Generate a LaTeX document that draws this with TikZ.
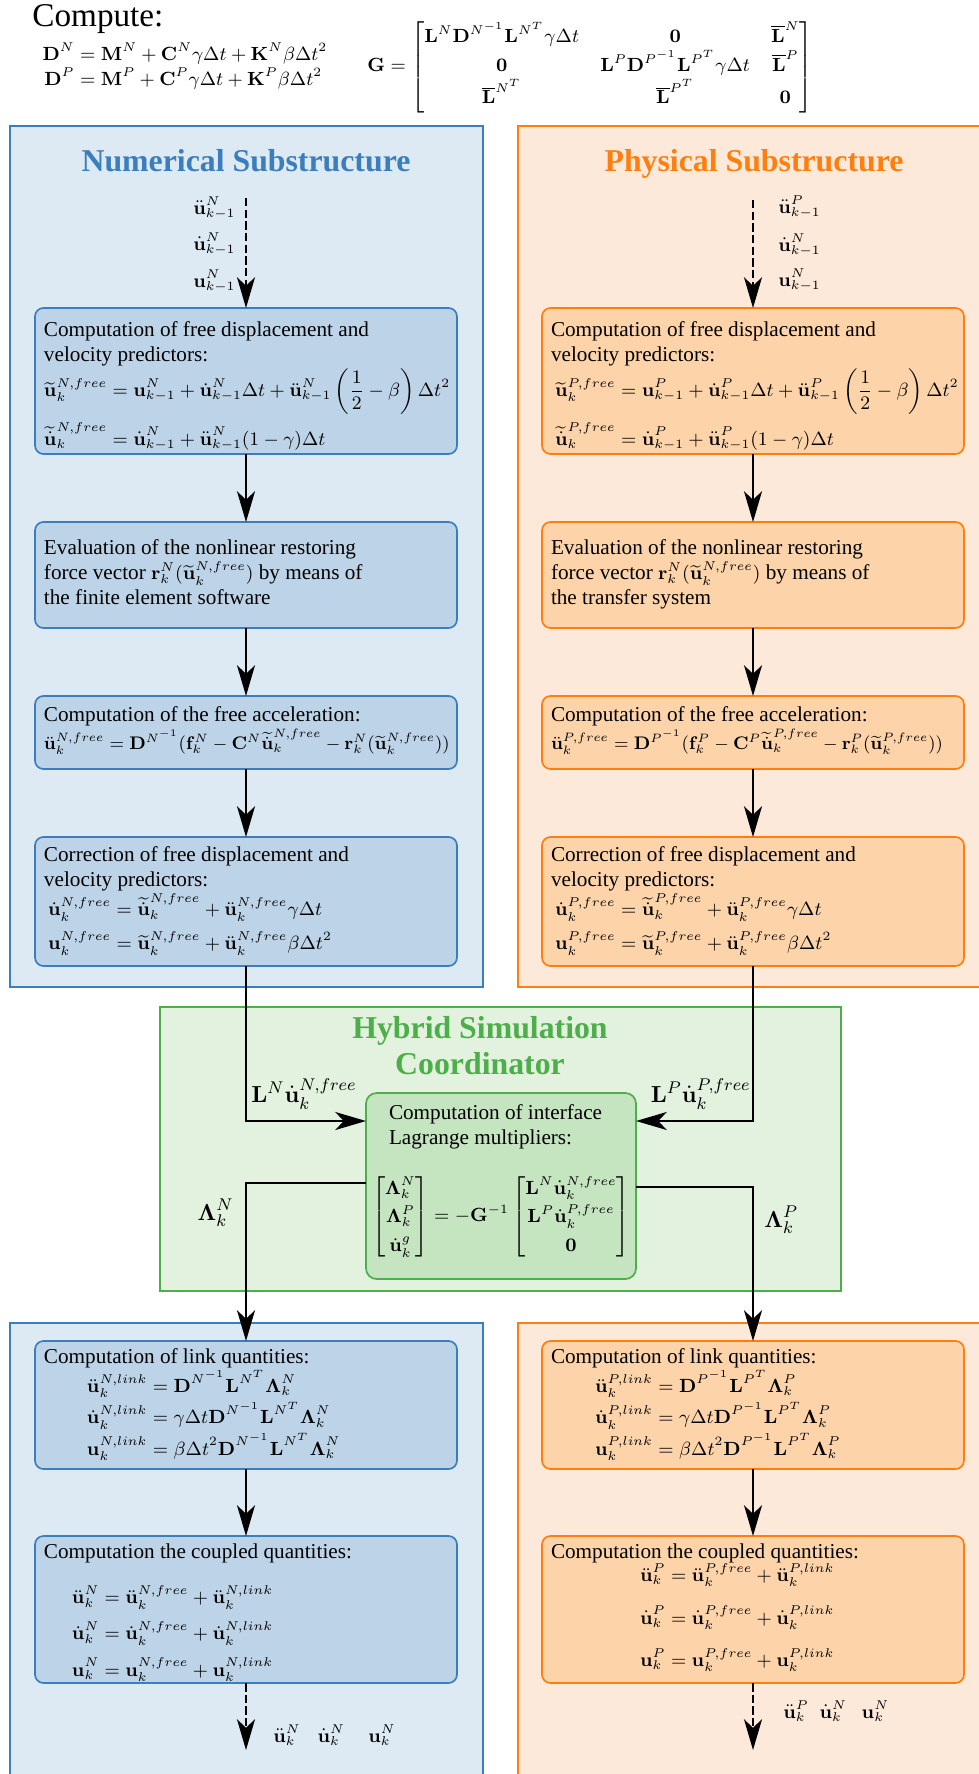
\documentclass[tikz,border=0pt]{standalone}
\usepackage{amsmath,amssymb}
\usepackage[no-math]{fontspec}
\setmainfont{Liberation Serif}[Scale=1.111]
\usetikzlibrary{arrows.meta}
\newlength\px \setlength\px{0.4717pt}
\definecolor{nborder}{RGB}{58,126,190}
\definecolor{nouter}{RGB}{222,234,243}
\definecolor{ninner}{RGB}{189,212,232}
\definecolor{pborder}{RGB}{255,127,14}
\definecolor{pouter}{RGB}{253,233,217}
\definecolor{pinner}{RGB}{253,212,170}
\definecolor{gborder}{RGB}{77,175,74}
\definecolor{gouter}{RGB}{227,241,223}
\definecolor{ginner}{RGB}{197,228,192}
\newcommand\uB{\mathbf{u}}
\newcommand\uD{\dot{\mathbf{u}}}
\newcommand\uDD{\ddot{\mathbf{u}}}
\newcommand\uT{\widetilde{\mathbf{u}}}
\newcommand\uTD{\widetilde{\dot{\mathbf{u}}}}
\newcommand\bLam{\boldsymbol{\Lambda}}
\newcommand\Dinv[1]{\mathbf{D}^{#1^{-1}}}
\newcommand\LT[1]{\mathbf{L}^{#1^{T}}}
\newcommand\bxc[3]{\parbox[c][#2\px][t]{#1\px}{\raggedright #3}}
\tikzset{
  basefont/.style={font=\fontsize{9}{11.8}\selectfont},
  arr/.style={line width=0.8pt,-{Stealth[length=14.5pt,width=8.5pt,inset=4pt]}},
  darr/.style={arr,dash pattern=on 4pt off 1.5pt},
  stepbox/.style={line width=0.8pt,rounded corners=4pt,inner xsep=9\px,inner ysep=0pt,outer sep=0pt,anchor=north},
  nstep/.style={stepbox,draw=nborder,fill=ninner},
  pstep/.style={stepbox,draw=pborder,fill=pinner},
  gstep/.style={stepbox,draw=gborder,fill=ginner,inner xsep=12\px,rounded corners=5pt},
  ttl/.style={inner sep=0pt,font=\fontsize{13.5}{17.1}\selectfont\bfseries},
  lbl/.style={inner sep=0pt},
  biglbl/.style={inner sep=0pt,font=\fontsize{10.95}{13.6}\selectfont},
}
\begin{document}
\begin{tikzpicture}[x=0.4717pt,y=-0.4717pt,every node/.append style={basefont}]
\useasboundingbox (0,0) rectangle (979,1774);
% containers
\draw[draw=nborder,fill=nouter,line width=0.7pt] (10,126) rectangle (483,987);
\draw[draw=pborder,fill=pouter,line width=0.7pt] (518,126) rectangle (995,987);
\draw[draw=nborder,fill=nouter,line width=0.7pt] (10,1323) rectangle (483,1795);
\draw[draw=pborder,fill=pouter,line width=0.7pt] (518,1323) rectangle (995,1795);
\draw[draw=gborder,fill=gouter,line width=0.9pt] (160,1007) rectangle (841,1291);
% header
\node[lbl,anchor=base west,font=\fontsize{14.1}{17}\selectfont] (cmp) at (32,27) {Compute:};
\node[lbl] (deq) at (185,68) {\jot=0pt$\begin{aligned}\mathbf{D}^N&=\mathbf{M}^N+\mathbf{C}^N\gamma\Delta t+\mathbf{K}^N\beta\Delta t^2\\[-1.2pt]
\mathbf{D}^P&=\mathbf{M}^P+\mathbf{C}^P\gamma\Delta t+\mathbf{K}^P\beta\Delta t^2\end{aligned}$};
\node[lbl] (geq) at (590,67) {\renewcommand\arraystretch{1.08}$\mathbf{G}=\begin{bmatrix}\mathbf{L}^N\Dinv{N}\LT{N}\gamma\Delta t & \mathbf{0} & \overline{\mathbf{L}}^N\\
\mathbf{0} & \mathbf{L}^P\Dinv{P}\LT{P}\gamma\Delta t & \overline{\mathbf{L}}^P\\
\overline{\mathbf{L}}^{N^T} & \overline{\mathbf{L}}^{P^T} & \mathbf{0}\end{bmatrix}$};
% titles
\node[ttl,text=nborder,anchor=base] (tn) at (246,172) {Numerical Substructure};
\node[ttl,text=pborder,anchor=base] (tp) at (754,172) {Physical Substructure};
\node[ttl,text=gborder,align=center,anchor=north] (tg) at (480,1016) {Hybrid Simulation\\Coordinator};
% numerical boxes
\node[nstep] (nb1) at (246,308) {\bxc{404}{146}{\vspace*{14\px}Computation of free displacement and\\
velocity predictors:\\
$\begin{aligned}[t]\uT_k^{N,free}&=\uB_{k-1}^N+\uD_{k-1}^N\Delta t+\uDD_{k-1}^N\left(\dfrac{1}{2}-\beta\right)\Delta t^2\\
\uTD_k^{N,free}&=\uD_{k-1}^N+\uDD_{k-1}^N(1-\gamma)\Delta t\end{aligned}$}};
\node[nstep] (nb2) at (246,522) {\bxc{404}{106}{\vspace*{18\px}Evaluation of the nonlinear restoring\\
force vector $\mathbf{r}_k^N(\uT_k^{N,free})$ by means of\\
the finite element software}};
\node[nstep] (nb3) at (246,696) {\bxc{404}{73}{\vspace*{11\px}Computation of the free acceleration:\\
\scalebox{0.955}{$\uDD_k^{N,free}=\Dinv{N}(\mathbf{f}_k^N-\mathbf{C}^N\uTD_k^{N,free}-\mathbf{r}_k^N(\uT_k^{N,free}))$}}};
\node[nstep] (nb4) at (246,837) {\bxc{404}{129}{\vspace*{10\px}Correction of free displacement and\\
velocity predictors:\\
\hspace*{4\px}$\begin{aligned}[t]\uD_k^{N,free}&=\uTD_k^{N,free}+\uDD_k^{N,free}\gamma\Delta t\\
\uB_k^{N,free}&=\uT_k^{N,free}+\uDD_k^{N,free}\beta\Delta t^2\end{aligned}$}};
\node[nstep] (nb5) at (246,1341) {\bxc{404}{128}{\vspace*{8\px}Computation of link quantities:\\
\hspace*{43\px}$\begin{aligned}[t]\uDD_k^{N,link}&=\Dinv{N}\LT{N}\bLam_k^N\\[-3pt]
\uD_k^{N,link}&=\gamma\Delta t\Dinv{N}\LT{N}\bLam_k^N\\[-3pt]
\uB_k^{N,link}&=\beta\Delta t^2\Dinv{N}\LT{N}\bLam_k^N\end{aligned}$}};
\node[nstep] (nb6) at (246,1536) {\bxc{404}{147}{\vspace*{8\px}Computation the coupled quantities:\\[9.5pt]
\hspace*{28\px}$\begin{aligned}[t]\uDD_k^N&=\uDD_k^{N,free}+\uDD_k^{N,link}\\[1pt]
\uD_k^N&=\uD_k^{N,free}+\uD_k^{N,link}\\[1pt]
\uB_k^N&=\uB_k^{N,free}+\uB_k^{N,link}\end{aligned}$}};
% physical boxes
\node[pstep] (pb1) at (753,308) {\bxc{404}{146}{\vspace*{14\px}Computation of free displacement and\\
velocity predictors:\\
\hspace*{4\px}$\begin{aligned}[t]\uT_k^{P,free}&=\uB_{k-1}^P+\uD_{k-1}^P\Delta t+\uDD_{k-1}^P\left(\dfrac{1}{2}-\beta\right)\Delta t^2\\
\uTD_k^{P,free}&=\uD_{k-1}^P+\uDD_{k-1}^P(1-\gamma)\Delta t\end{aligned}$}};
\node[pstep] (pb2) at (753,522) {\bxc{404}{106}{\vspace*{18\px}Evaluation of the nonlinear restoring\\
force vector $\mathbf{r}_k^N(\uT_k^{N,free})$ by means of\\
the transfer system}};
\node[pstep] (pb3) at (753,696) {\bxc{404}{73}{\vspace*{11\px}Computation of the free acceleration:\\
\scalebox{0.955}{$\uDD_k^{P,free}=\Dinv{P}(\mathbf{f}_k^P-\mathbf{C}^P\uTD_k^{P,free}-\mathbf{r}_k^P(\uT_k^{P,free}))$}}};
\node[pstep] (pb4) at (753,837) {\bxc{404}{129}{\vspace*{10\px}Correction of free displacement and\\
velocity predictors:\\
\hspace*{4\px}$\begin{aligned}[t]\uD_k^{P,free}&=\uTD_k^{P,free}+\uDD_k^{P,free}\gamma\Delta t\\
\uB_k^{P,free}&=\uT_k^{P,free}+\uDD_k^{P,free}\beta\Delta t^2\end{aligned}$}};
\node[pstep] (pb5) at (753,1341) {\bxc{404}{128}{\vspace*{8\px}Computation of link quantities:\\
\hspace*{44\px}$\begin{aligned}[t]\uDD_k^{P,link}&=\Dinv{P}\LT{P}\bLam_k^P\\[-3pt]
\uD_k^{P,link}&=\gamma\Delta t\Dinv{P}\LT{P}\bLam_k^P\\[-3pt]
\uB_k^{P,link}&=\beta\Delta t^2\Dinv{P}\LT{P}\bLam_k^P\end{aligned}$}};
\node[pstep] (pb6) at (753,1536) {\bxc{404}{147}{\vspace*{8\px}Computation the coupled quantities:\\[-1pt]
\hspace*{89\px}$\begin{aligned}[t]\uDD_k^P&=\uDD_k^{P,free}+\uDD_k^{P,link}\\[4pt]
\uD_k^P&=\uD_k^{P,free}+\uD_k^{P,link}\\[4pt]
\uB_k^P&=\uB_k^{P,free}+\uB_k^{P,link}\end{aligned}$}};
% coordinator box
\node[gstep] (hc) at (501,1093) {\bxc{246}{186}{\vspace*{12\px}\hspace*{11\px}Computation of interface\\
\hspace*{11\px}Lagrange multipliers:\par\vspace{10.5pt}
\renewcommand\arraystretch{1.15}\makebox[\linewidth]{$\begin{bmatrix}\bLam_k^N\\ \bLam_k^P\\ \uD_k^g\end{bmatrix}=-\mathbf{G}^{-1}\begin{bmatrix}\mathbf{L}^N\uD_k^{N,free}\\ \mathbf{L}^P\uD_k^{P,free}\\ \mathbf{0}\end{bmatrix}$}}};
% labels
\node[lbl,anchor=base east] (nl1) at (236,214) {$\uDD_{k-1}^N$};
\node[lbl,anchor=base east] (nl2) at (236,250) {$\uD_{k-1}^N$};
\node[lbl,anchor=base east] (nl3) at (236,287) {$\uB_{k-1}^N$};
\node[lbl,anchor=base west] (pl1) at (778,213) {$\uDD_{k-1}^P$};
\node[lbl,anchor=base west] (pl2) at (778,251) {$\uD_{k-1}^N$};
\node[lbl,anchor=base west] (pl3) at (778,286) {$\uB_{k-1}^N$};
\node[biglbl,anchor=base west] (lnl) at (251,1102) {$\mathbf{L}^N\uD_k^{N,free}$};
\node[biglbl,anchor=base east] (lpl) at (751,1102) {$\mathbf{L}^P\uD_k^{P,free}$};
\node[biglbl,anchor=base east] (lamn) at (234,1220) {$\bLam_k^N$};
\node[biglbl,anchor=base west] (lamp) at (764,1227) {$\bLam_k^P$};
\node[lbl,anchor=base west] (nout3) at (273,1742) {$\uDD_k^N\hspace{8pt}\uD_k^N\hspace{11pt}\uB_k^N$};
\node[lbl,anchor=base west] (pout3) at (783,1718) {$\uDD_k^P\hspace{5pt}\uD_k^N\hspace{7pt}\uB_k^N$};
\coordinate (nin) at (246,198);
\coordinate (pin) at (753,200);
\coordinate (nout) at (246,1750);
\coordinate (pout) at (753,1750);
% connectors
\draw[darr] (nin) -- (nb1.north);
\draw[darr] (pin) -- (pb1.north);
\draw[arr] (nb1.south) -- (nb2.north);
\draw[arr] (nb2.south) -- (nb3.north);
\draw[arr] (nb3.south) -- (nb4.north);
\draw[arr] (pb1.south) -- (pb2.north);
\draw[arr] (pb2.south) -- (pb3.north);
\draw[arr] (pb3.south) -- (pb4.north);
\draw[arr] (nb4.south) |- ([yshift=-28\px]hc.north west);
\draw[arr] (pb4.south) |- ([yshift=-28\px]hc.north east);
\draw[arr] ([yshift=-90\px]hc.north west) -| (nb5.north);
\draw[arr] ([yshift=-94\px]hc.north east) -| (pb5.north);
\draw[arr] (nb5.south) -- (nb6.north);
\draw[arr] (pb5.south) -- (pb6.north);
\draw[darr] (nb6.south) -- (nout);
\draw[darr] (pb6.south) -- (pout);
\end{tikzpicture}
\end{document}
